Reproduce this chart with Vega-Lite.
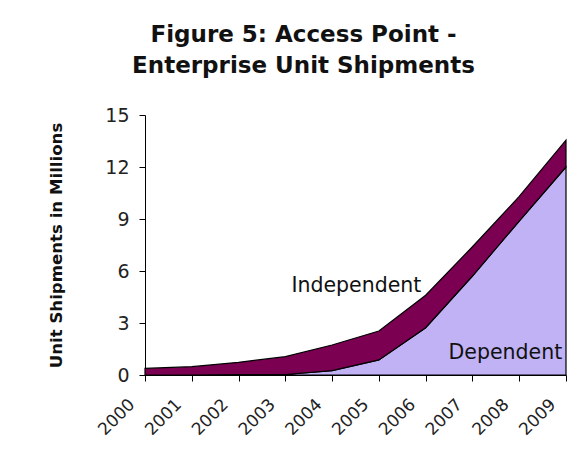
{
  "$schema": "https://vega.github.io/schema/vega-lite/v6.json",
  "autosize": "none",
  "width": 421,
  "height": 260,
  "padding": {"left": 145, "top": 115, "right": 3, "bottom": 82},
  "background": "white",
  "config": {
    "font": "DejaVu Sans",
    "view": {"stroke": null}
  },
  "title": {
    "text": ["Figure 5: Access Point -", "Enterprise Unit Shipments"],
    "font": "DejaVu Sans",
    "fontSize": 23,
    "fontWeight": "bold",
    "color": "#111111",
    "lineHeight": 31,
    "anchor": "middle",
    "frame": "group",
    "dx": -52,
    "offset": 28
  },
  "datasets": {
    "shipments": [
      {"year": 2000, "type": "Dependent", "units": 0},
      {"year": 2001, "type": "Dependent", "units": 0},
      {"year": 2002, "type": "Dependent", "units": 0.02},
      {"year": 2003, "type": "Dependent", "units": 0.03},
      {"year": 2004, "type": "Dependent", "units": 0.25},
      {"year": 2005, "type": "Dependent", "units": 0.87},
      {"year": 2006, "type": "Dependent", "units": 2.73},
      {"year": 2007, "type": "Dependent", "units": 5.71},
      {"year": 2008, "type": "Dependent", "units": 8.88},
      {"year": 2009, "type": "Dependent", "units": 12.0},
      {"year": 2000, "type": "Independent", "units": 0.38},
      {"year": 2001, "type": "Independent", "units": 0.48},
      {"year": 2002, "type": "Independent", "units": 0.71},
      {"year": 2003, "type": "Independent", "units": 1.03},
      {"year": 2004, "type": "Independent", "units": 1.48},
      {"year": 2005, "type": "Independent", "units": 1.67},
      {"year": 2006, "type": "Independent", "units": 1.87},
      {"year": 2007, "type": "Independent", "units": 1.69},
      {"year": 2008, "type": "Independent", "units": 1.42},
      {"year": 2009, "type": "Independent", "units": 1.55}
    ]
  },
  "layer": [
    {
      "data": {"name": "shipments"},
      "mark": {"type": "area", "stroke": "black", "strokeWidth": 1.2, "opacity": 1},
      "encoding": {
        "x": {
          "field": "year",
          "type": "quantitative",
          "scale": {"domain": [2000, 2009], "nice": false, "zero": false},
          "axis": {
            "title": null,
            "values": [2000, 2001, 2002, 2003, 2004, 2005, 2006, 2007, 2008, 2009],
            "format": "d",
            "labelAngle": -45,
            "labelFont": "DejaVu Sans",
            "labelFontSize": 17,
            "labelColor": "#222222",
            "labelPadding": 15,
            "labelOffset": -19,
            "tickSize": 6,
            "tickColor": "black",
            "domainColor": "black",
            "grid": false,
            "labelOverlap": false,
            "labelBound": false,
            "labelFlush": false
          }
        },
        "y": {
          "field": "units",
          "type": "quantitative",
          "stack": "zero",
          "scale": {"domain": [0, 15], "nice": false},
          "axis": {
            "title": "Unit Shipments in Millions",
            "titleFont": "DejaVu Sans",
            "titleFontSize": 16.6,
            "titleFontWeight": "bold",
            "titleColor": "#111111",
            "titlePadding": 40,
            "values": [0, 3, 6, 9, 12, 15],
            "labelFont": "DejaVu Sans",
            "labelFontSize": 19,
            "labelColor": "#222222",
            "labelPadding": 10,
            "tickSize": 6,
            "tickColor": "black",
            "domainColor": "black",
            "grid": false
          }
        },
        "color": {
          "field": "type",
          "type": "nominal",
          "scale": {"domain": ["Dependent", "Independent"], "range": ["#C0B2F4", "#7B0052"]},
          "legend": null
        },
        "order": {"field": "type", "sort": "ascending"}
      }
    },
    {
      "data": {"values": [{"label": "Independent", "year": 2003.13, "units": 4.8}]},
      "mark": {"type": "text", "font": "DejaVu Sans", "fontSize": 20.5, "color": "#111111", "baseline": "alphabetic", "align": "left"},
      "encoding": {
        "x": {"field": "year", "type": "quantitative"},
        "y": {"field": "units", "type": "quantitative"},
        "text": {"field": "label"}
      }
    },
    {
      "data": {"values": [{"label": "Dependent", "year": 2008.92, "units": 0.92}]},
      "mark": {"type": "text", "font": "DejaVu Sans", "fontSize": 20.5, "color": "#111111", "baseline": "alphabetic", "align": "right"},
      "encoding": {
        "x": {"field": "year", "type": "quantitative"},
        "y": {"field": "units", "type": "quantitative"},
        "text": {"field": "label"}
      }
    }
  ]
}
